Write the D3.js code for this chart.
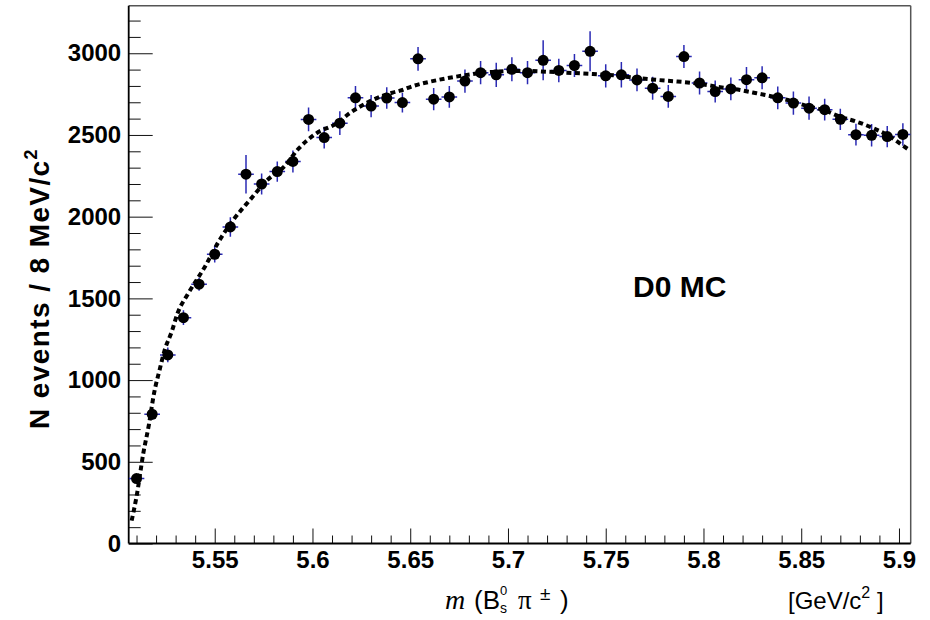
<!DOCTYPE html>
<html>
<head>
<meta charset="utf-8">
<script src="https://cdn.jsdelivr.net/npm/d3@7"></script>
<style>
  html, body { margin: 0; padding: 0; background: #fff; }
  svg { display: block; }
</style>
</head>
<body>
<svg id="chart" width="930" height="620"></svg>
<script>
// ---------------- data ----------------
const binCenters = [5.510, 5.518, 5.526, 5.534, 5.542, 5.550, 5.558, 5.566, 5.574, 5.582,
                    5.590, 5.598, 5.606, 5.614, 5.622, 5.630, 5.638, 5.646, 5.654, 5.662,
                    5.670, 5.678, 5.686, 5.694, 5.702, 5.710, 5.718, 5.726, 5.734, 5.742,
                    5.750, 5.758, 5.766, 5.774, 5.782, 5.790, 5.798, 5.806, 5.814, 5.822,
                    5.830, 5.838, 5.846, 5.854, 5.862, 5.870, 5.878, 5.886, 5.894, 5.902];
const counts = [397, 791, 1154, 1382, 1587, 1770, 1937, 2260, 2200, 2276,
                2338, 2595, 2484, 2572, 2727, 2677, 2726, 2698, 2966, 2719,
                2733, 2830, 2881, 2868, 2902, 2881, 2957, 2895, 2925, 3012,
                2862, 2868, 2837, 2786, 2736, 2980, 2818, 2766, 2782, 2838,
                2850, 2727, 2695, 2664, 2655, 2596, 2502, 2498, 2490, 2503];
const errors = [25, 35, 45, 45, 40, 50, 60, 118, 64, 62,
                67, 73, 67, 73, 73, 68, 66, 61, 73, 68,
                66, 71, 71, 74, 74, 71, 122, 72, 71, 122,
                71, 78, 70, 70, 69, 71, 71, 68, 69, 78,
                71, 69, 71, 71, 67, 65, 66, 69, 65, 69];
const binHalfWidth = 0.004;

const fitMass = [5.5075, 5.5100, 5.5135, 5.5163, 5.5190, 5.5218, 5.5244, 5.5280, 5.5310, 5.5365,
                 5.5450, 5.5520, 5.5595, 5.5680, 5.5770, 5.5855, 5.5930, 5.6020, 5.6125, 5.6190,
                 5.6290, 5.6410, 5.6448, 5.6516, 5.6601, 5.6687, 5.6789, 5.6891, 5.6994, 5.7096,
                 5.7198, 5.7300, 5.7435, 5.7539, 5.7641, 5.7761, 5.7846, 5.7932, 5.8017, 5.8085,
                 5.8187, 5.8272, 5.8357, 5.8443, 5.8528, 5.8613, 5.8698, 5.8784, 5.8869, 5.8954,
                 5.9014, 5.9050];
const fitValue = [140, 286, 554, 725, 921, 1062, 1184, 1296, 1409, 1531,
                  1694, 1847, 1980, 2102, 2225, 2306, 2418, 2510, 2572, 2633,
                  2704, 2759, 2771, 2800, 2826, 2847, 2867, 2884, 2890, 2892,
                  2887, 2881, 2873, 2865, 2851, 2837, 2829, 2820, 2806, 2792,
                  2775, 2755, 2734, 2710, 2677, 2653, 2612, 2581, 2541, 2490,
                  2440, 2410];

const xMajorTicks = [5.55, 5.6, 5.65, 5.7, 5.75, 5.8, 5.85, 5.9];
const xTickLabels = ["5.55", "5.6", "5.65", "5.7", "5.75", "5.8", "5.85", "5.9"];
const xMinorTicks = [5.51, 5.52, 5.53, 5.54, 5.56, 5.57, 5.58, 5.59, 5.61, 5.62, 5.63, 5.64,
                     5.66, 5.67, 5.68, 5.69, 5.71, 5.72, 5.73, 5.74, 5.76, 5.77, 5.78, 5.79,
                     5.81, 5.82, 5.83, 5.84, 5.86, 5.87, 5.88, 5.89];
const yMajorTicks = [0, 500, 1000, 1500, 2000, 2500, 3000];
const yMinorTicks = [100, 200, 300, 400, 600, 700, 800, 900, 1100, 1200, 1300, 1400,
                     1600, 1700, 1800, 1900, 2100, 2200, 2300, 2400, 2600, 2700, 2800, 2900,
                     3100, 3200];
const xDomain = [5.506, 5.906];
const yDomain = [0, 3291];

// ---------------- layout ----------------
const L = 128.7, R = 910.7, T = 5.7, B = 543.5;
const svg = d3.select("#chart");
const x = d3.scaleLinear().domain(xDomain).range([L, R]);
const y = d3.scaleLinear().domain(yDomain).range([B, T]);

const FONT = "'Liberation Sans', Arial, Helvetica, sans-serif";
const SERIF = "'Liberation Serif', 'Times New Roman', serif";

// frame (top/right grey)
svg.append("line").attr("x1", L).attr("x2", R).attr("y1", T).attr("y2", T)
  .attr("stroke", "#555").attr("stroke-width", 1.5);
svg.append("line").attr("x1", R).attr("x2", R).attr("y1", T).attr("y2", B)
  .attr("stroke", "#555").attr("stroke-width", 1.5);

// x axis
const gx = svg.append("g").attr("transform", `translate(0,${B})`);
gx.call(d3.axisBottom(x).tickValues(xMajorTicks).tickSize(-15).tickPadding(7.5)
  .tickFormat((d, i) => xTickLabels[i]));
gx.append("g").call(d3.axisBottom(x).tickValues(xMinorTicks).tickSize(-8).tickFormat(""));
gx.selectAll(".domain").remove();
gx.selectAll("line").attr("stroke", "#111").attr("stroke-width", 1);
gx.selectAll("text").attr("font-family", FONT).attr("font-size", 24).attr("font-weight", "bold").attr("fill", "#000");

// y axis
const gy = svg.append("g").attr("transform", `translate(${L},0)`);
gy.call(d3.axisLeft(y).tickValues(yMajorTicks).tickSize(-24).tickPadding(7.5).tickFormat(d3.format("d")));
gy.append("g").call(d3.axisLeft(y).tickValues(yMinorTicks).tickSize(-12).tickFormat(""));
gy.selectAll(".domain").remove();
gy.selectAll("line").attr("stroke", "#111").attr("stroke-width", 1);
gy.selectAll("text").attr("font-family", FONT).attr("font-size", 24).attr("font-weight", "bold").attr("fill", "#000");

// axis lines (left/bottom black)
svg.append("line").attr("x1", L).attr("x2", L).attr("y1", T).attr("y2", B)
  .attr("stroke", "#000").attr("stroke-width", 1.8);
svg.append("line").attr("x1", L).attr("x2", R).attr("y1", B).attr("y2", B)
  .attr("stroke", "#000").attr("stroke-width", 1.8);

// clip
svg.append("defs").append("clipPath").attr("id", "clip")
  .append("rect").attr("x", L).attr("y", T).attr("width", R - L).attr("height", B - T);
const plot = svg.append("g").attr("clip-path", "url(#clip)");

// error bars
const data = binCenters.map((m, i) => ({ m, v: counts[i], e: errors[i] }));
const EB = "#2a2ab4";
plot.selectAll(".ey").data(data).enter().append("line")
  .attr("x1", d => x(d.m)).attr("x2", d => x(d.m))
  .attr("y1", d => y(d.v - d.e)).attr("y2", d => y(d.v + d.e))
  .attr("stroke", EB).attr("stroke-width", 1.5);
plot.selectAll(".ex").data(data).enter().append("line")
  .attr("x1", d => x(d.m - binHalfWidth)).attr("x2", d => x(d.m + binHalfWidth))
  .attr("y1", d => y(d.v)).attr("y2", d => y(d.v))
  .attr("stroke", EB).attr("stroke-width", 1.5);
plot.selectAll(".pt").data(data).enter().append("circle")
  .attr("cx", d => x(d.m)).attr("cy", d => y(d.v)).attr("r", 5.5).attr("fill", "#000");

// fit curve
const fit = fitMass.map((m, i) => [m, fitValue[i]]);
plot.append("path").datum(fit)
  .attr("d", d3.line().x(d => x(d[0])).y(d => y(d[1])).curve(d3.curveMonotoneX))
  .attr("fill", "none").attr("stroke", "#000").attr("stroke-width", 4)
  .attr("stroke-dasharray", "5,3.5");

// y title
const yt = svg.append("text")
  .attr("transform", `translate(49,148) rotate(-90)`)
  .attr("text-anchor", "end")
  .attr("letter-spacing", 1.4)
  .attr("font-family", FONT).attr("font-size", 28).attr("font-weight", "bold").attr("fill", "#000");
yt.append("tspan").text("N events / 8 MeV/c");
yt.append("tspan").attr("font-size", 18).attr("dy", -12).text("2");

// x title (pieces placed individually)
const xtY = 609;
const xt = svg.append("g").attr("fill", "#000");
xt.append("text").attr("x", 445).attr("y", xtY).attr("font-family", SERIF)
  .attr("font-style", "italic").attr("font-size", 28).text("m");
xt.append("text").attr("x", 474).attr("y", xtY).attr("font-family", FONT)
  .attr("font-size", 26).text("(B");
xt.append("text").attr("x", 500).attr("y", xtY - 14).attr("font-family", FONT)
  .attr("font-size", 13).text("0");
xt.append("text").attr("x", 500).attr("y", xtY + 4).attr("font-family", FONT)
  .attr("font-size", 14).text("s");
xt.append("text").attr("x", 518).attr("y", xtY).attr("font-family", SERIF)
  .attr("font-size", 27).text("\u03C0");
xt.append("text").attr("x", 540).attr("y", xtY - 9).attr("font-family", FONT)
  .attr("font-size", 19).text("\u00B1");
xt.append("text").attr("x", 560).attr("y", xtY).attr("font-family", FONT)
  .attr("font-size", 26).text(")");

const ut = svg.append("text").attr("x", 788).attr("y", xtY)
  .attr("font-family", FONT).attr("font-size", 24).attr("fill", "#000");
ut.append("tspan").text("[GeV/c");
ut.append("tspan").attr("font-size", 16).attr("dy", -11).text("2");
ut.append("tspan").attr("dy", 11).text(" ]");

// label
svg.append("text").attr("x", 633).attr("y", 297)
  .attr("font-family", FONT).attr("font-size", 30).attr("font-weight", "bold").attr("fill", "#000")
  .text("D0 MC");
</script>
</body>
</html>
